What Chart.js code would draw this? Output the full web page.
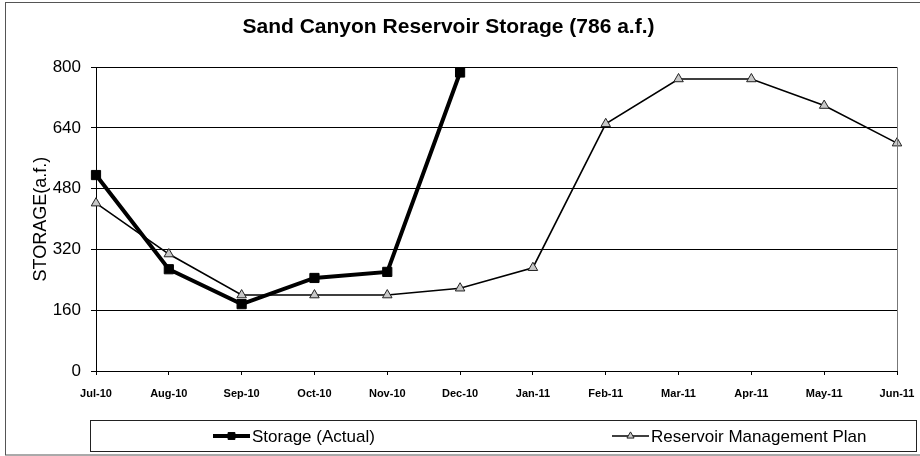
<!DOCTYPE html>
<html>
<head>
<meta charset="utf-8">
<script src="https://cdn.jsdelivr.net/npm/chart.js@4/dist/chart.umd.min.js"></script>
<style>
  html, body { margin: 0; padding: 0; background: #fff; }
  #wrap { width: 920px; height: 456px; }
</style>
</head>
<body>
<div id="wrap"><canvas id="storage-chart" width="920" height="456"></canvas></div>
<script>
var months = ["Jul-10", "Aug-10", "Sep-10", "Oct-10", "Nov-10", "Dec-10",
              "Jan-11", "Feb-11", "Mar-11", "Apr-11", "May-11", "Jun-11"];
var actualStorage = [516, 268, 176, 245, 261, 786];
var managementPlan = [442, 308, 200, 200, 200, 218, 272, 651, 769, 769, 699, 600];
var yTicks = [0, 160, 320, 480, 640, 800];

var FONT = "Arial, 'Liberation Sans', sans-serif";

// frame around the whole chart, right edge of the plot, and the boxed legend
var framePlugin = {
  id: 'frame',
  afterDraw: function (chart) {
    var ctx = chart.ctx;
    var area = chart.chartArea;
    ctx.save();
    ctx.lineWidth = 1;
    ctx.strokeStyle = '#555';
    ctx.strokeRect(5.5, 2.5, 920, 452.5);

    ctx.strokeStyle = '#777';
    ctx.beginPath();
    ctx.moveTo(Math.round(area.right) + 0.5, area.top);
    ctx.lineTo(Math.round(area.right) + 0.5, area.bottom);
    ctx.stroke();

    // legend box
    ctx.strokeStyle = '#222';
    ctx.strokeRect(90.5, 420.5, 826, 31);

    var items = [
      { ds: chart.data.datasets[0], x: 213 },
      { ds: chart.data.datasets[1], x: 612 }
    ];
    var cy = 436;
    items.forEach(function (it) {
      var ds = it.ds;
      ctx.strokeStyle = ds.borderColor;
      ctx.lineWidth = ds.borderWidth;
      ctx.beginPath();
      ctx.moveTo(it.x, cy);
      ctx.lineTo(it.x + 37, cy);
      ctx.stroke();
      ctx.fillStyle = ds.pointBackgroundColor;
      ctx.strokeStyle = ds.pointBorderColor;
      ctx.lineWidth = 1;
      Chart.helpers.drawPoint(ctx, {
        pointStyle: ds.pointStyle,
        radius: ds.pointRadius * 0.75,
        borderWidth: 1,
        rotation: 0
      }, it.x + 18.5, cy);
      ctx.fillStyle = '#000';
      ctx.font = '17px ' + FONT;
      ctx.textBaseline = 'middle';
      ctx.textAlign = 'left';
      ctx.fillText(ds.label, it.x + 39, cy + 1);
    });
    ctx.restore();
  }
};

new Chart(document.getElementById("storage-chart"), {
  type: 'line',
  data: {
    labels: months,
    datasets: [{
      label: "Storage (Actual)",
      data: actualStorage,
      borderColor: '#000',
      borderWidth: 4,
      pointStyle: 'rect',
      pointRadius: 6.5,
      pointBackgroundColor: '#000',
      pointBorderColor: '#000',
      pointBorderWidth: 1,
      tension: 0
    }, {
      label: "Reservoir Management Plan",
      data: managementPlan,
      borderColor: '#000',
      borderWidth: 1.6,
      pointStyle: 'triangle',
      pointRadius: 5.5,
      pointBackgroundColor: '#c8c8c8',
      pointBorderColor: '#222',
      pointBorderWidth: 1,
      tension: 0
    }]
  },
  options: {
    responsive: false,
    animation: false,
    layout: { padding: { top: 0, left: 0, right: 23, bottom: 55 } },
    plugins: {
      legend: { display: false },
      tooltip: { enabled: false },
      title: {
        display: true,
        text: 'Sand Canyon Reservoir Storage (786 a.f.)',
        color: '#000',
        font: { family: FONT, size: 21, weight: 'bold' },
        padding: { top: 15, bottom: 27 }
      }
    },
    scales: {
      x: {
        offset: false,
        grid: {
          drawOnChartArea: false,
          color: '#000',
          tickLength: 4
        },
        border: { color: '#000', width: 1 },
        ticks: {
          color: '#000',
          padding: 12,
          maxRotation: 0,
          autoSkip: false,
          font: { family: FONT, size: 11, weight: 'bold' }
        },
        afterFit: function (scale) {
          scale.height = 30;
          scale.paddingLeft = 0;
          scale.paddingRight = 0;
        }
      },
      y: {
        min: 0,
        max: 800,
        afterBuildTicks: function (scale) {
          scale.ticks = yTicks.map(function (v) { return { value: v }; });
        },
        grid: { color: '#000', lineWidth: 1, tickLength: 5 },
        border: { color: '#000', width: 1 },
        ticks: {
          color: '#000',
          padding: 10,
          font: { family: FONT, size: 17 }
        },
        title: {
          display: true,
          text: 'STORAGE(a.f.)',
          color: '#000',
          font: { family: FONT, size: 18 },
          padding: { top: 30, bottom: 0 }
        },
        afterFit: function (scale) { scale.width = 96; }
      }
    }
  },
  plugins: [framePlugin]
});
</script>
</body>
</html>
